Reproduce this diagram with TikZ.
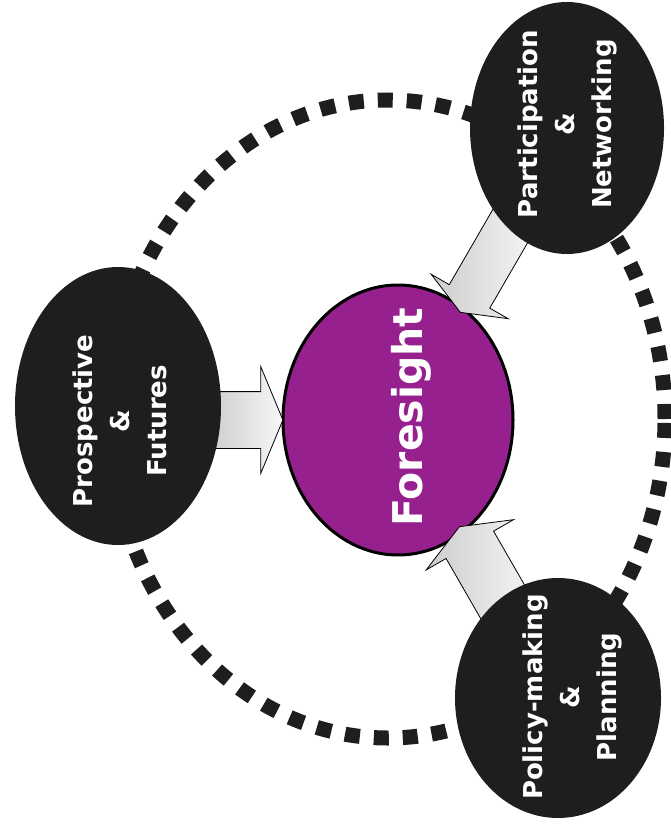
\documentclass[tikz,border=0pt]{standalone}
\usepackage{fontspec}
\setmainfont{DejaVu Sans}
\usetikzlibrary{shapes.geometric,shapes.arrows}
\pgfdeclarelayer{ring}
\pgfdeclarelayer{front}
\pgfsetlayers{ring,main,front}
\definecolor{plum}{HTML}{96208E}
\definecolor{ink}{HTML}{1E1E1E}
\tikzset{
  bubble/.style={ellipse, fill=ink, inner sep=0pt},
  core/.style={ellipse, fill=plum, draw=black, line width=3pt, inner sep=0pt},
  bubbletext/.style={text=white, font=\bfseries\fontsize{26}{37}\selectfont,
    align=center, rotate=90, inner sep=0pt},
  coretext/.style={text=white, font=\bfseries\fontsize{41}{48}\selectfont,
    rotate=90, inner sep=0pt},
  blockarrow/.style={single arrow, draw=black, line width=0.8pt,
    left color=gray!40, right color=gray!6, inner xsep=0pt,
    single arrow tip angle=135},
  dotring/.style={draw=ink, line width=15pt, dash pattern=on 15pt off 14pt}
}
\begin{document}
\begin{tikzpicture}[x=1pt, y=-1pt]
  \useasboundingbox (0,0) rectangle (671,824);

  % dotted ring behind everything
  \begin{pgfonlayer}{ring}
    \draw[dotring] (388,419) ellipse [x radius=277pt, y radius=319pt];
  \end{pgfonlayer}

  % central topic
  \node[core, minimum width=230pt, minimum height=270pt] (fs) at (398,420) {};
  \node[coretext] (fs-t) at (411,417) {Foresight};

  % outer topics
  \begin{pgfonlayer}{front}
    \node[bubble, minimum width=206pt, minimum height=278pt] (pr) at (118,406) {};
    \node[bubbletext] (pr-t) at (120,421) {Prospective\\\&\\Futures};
    \node[bubble, minimum width=194pt, minimum height=252pt] (pa) at (567,128) {};
    \node[bubbletext] (pa-t) at (567,124) {Participation\\\&\\Networking};
    \node[bubble, minimum width=206pt, minimum height=240pt] (po) at (558,698) {};
    \node[bubbletext] (po-t) at (572,697) {Policy-making\\\&\\Planning};
  \end{pgfonlayer}

  % block arrows into the centre (shaft half width = inner ysep)
  \node[blockarrow, minimum height=76pt, inner ysep=28pt,
    single arrow head extend=25pt] (a-pr) at (239,420) {};
  \path (pa.center) -- (fs.center)
    node[blockarrow, sloped, allow upside down, pos=0.442,
      minimum height=118pt, inner ysep=23pt,
      single arrow head extend=21pt] (a-pa) {};
  \path (po.center) -- (fs.center)
    node[blockarrow, sloped, allow upside down, pos=0.427,
      minimum height=110pt, inner ysep=27pt,
      single arrow head extend=23pt] (a-po) {};
\end{tikzpicture}
\end{document}
